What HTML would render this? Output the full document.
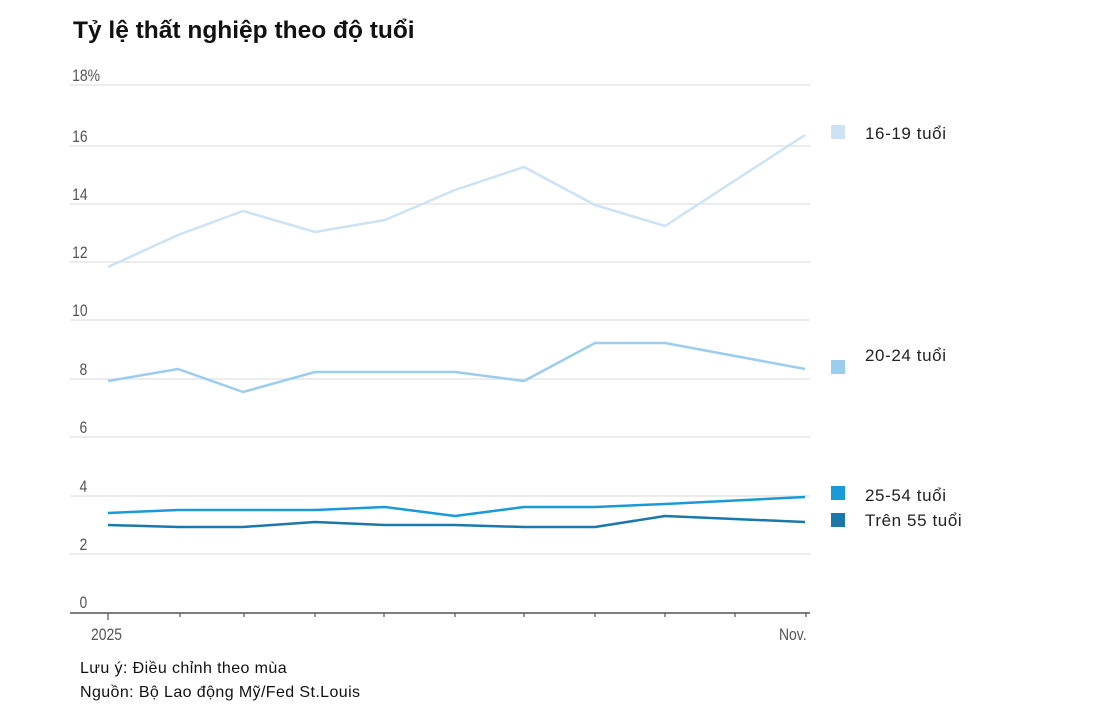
<!DOCTYPE html>
<html><head><meta charset="utf-8"><style>
body{margin:0;background:#fff;width:1112px;height:707px;overflow:hidden;font-family:"Liberation Sans",sans-serif}
</style></head><body>
<svg width="1112" height="707" xmlns="http://www.w3.org/2000/svg" font-family="Liberation Sans, sans-serif">
<text x="73" y="38" font-size="24.5" font-weight="bold" fill="#111">Tỷ lệ thất nghiệp theo độ tuổi</text>
<g stroke="#e6e6e6" stroke-width="1.5">
<line x1="70" x2="810" y1="85" y2="85"/><line x1="70" x2="810" y1="146" y2="146"/><line x1="70" x2="810" y1="204" y2="204"/><line x1="70" x2="810" y1="262" y2="262"/><line x1="70" x2="810" y1="320" y2="320"/><line x1="70" x2="810" y1="379" y2="379"/><line x1="70" x2="810" y1="437" y2="437"/><line x1="70" x2="810" y1="496" y2="496"/><line x1="70" x2="810" y1="554" y2="554"/>
</g>
<g font-size="17" fill="#555" transform="scale(0.82,1)">
<text x="88" y="81">18%</text><text x="88" y="142">16</text><text x="88" y="200">14</text><text x="88" y="258">12</text><text x="88" y="316">10</text><text x="97" y="375">8</text><text x="97" y="433">6</text><text x="97" y="492">4</text><text x="97" y="550">2</text><text x="97" y="608">0</text>
<text x="111" y="640">2025</text><text x="950" y="640">Nov.</text>
</g>
<line x1="70" x2="810" y1="613" y2="613" stroke="#555" stroke-width="1.5"/>
<g stroke="#555" stroke-width="1.2">
<line x1="108" x2="108" y1="613" y2="620"/><line x1="180" x2="180" y1="613" y2="617"/><line x1="244" x2="244" y1="613" y2="617"/><line x1="315" x2="315" y1="613" y2="617"/><line x1="384" x2="384" y1="613" y2="617"/><line x1="455" x2="455" y1="613" y2="617"/><line x1="524" x2="524" y1="613" y2="617"/><line x1="595" x2="595" y1="613" y2="617"/><line x1="665" x2="665" y1="613" y2="617"/><line x1="735" x2="735" y1="613" y2="617"/><line x1="806" x2="806" y1="613" y2="617"/>
</g>
<g fill="none" stroke-width="2.5" stroke-linejoin="round">
<polyline stroke="#cde3f3" points="108,267 178,235 243,211 315,232 385,220 455,190 524,167 595,205 665,226 805,135"/>
<polyline stroke="#9dcdee" points="108,381 178,369 243,392 315,372 385,372 455,372 524,381 595,343 665,343 805,369"/>
<polyline stroke="#1a9ad8" points="108,513 178,510 243,510 315,510 385,507 455,516 524,507 595,507 665,504 805,497"/>
<polyline stroke="#1a78ab" points="108,525 178,527 243,527 315,522 385,525 455,525 524,527 595,527 665,516 805,522"/>
</g>
<rect x="831" y="125" width="14" height="14" fill="#cde3f3"/>
<rect x="831" y="360" width="14" height="14" fill="#9dcdee"/>
<rect x="831" y="486" width="14" height="14" fill="#1a9ad8"/>
<rect x="831" y="513" width="14" height="14" fill="#1a78ab"/>
<g font-size="17" fill="#222" letter-spacing="0.6">
<text x="865" y="139">16-19 tuổi</text><text x="865" y="361">20-24 tuổi</text><text x="865" y="501">25-54 tuổi</text><text x="865" y="526">Trên 55 tuổi</text>
</g>
<g font-size="16" fill="#111" letter-spacing="0.4">
<text x="80" y="673">Lưu ý: Điều chỉnh theo mùa</text>
<text x="80" y="697">Nguồn: Bộ Lao động Mỹ/Fed St.Louis</text>
</g>
</svg>
</body></html>
